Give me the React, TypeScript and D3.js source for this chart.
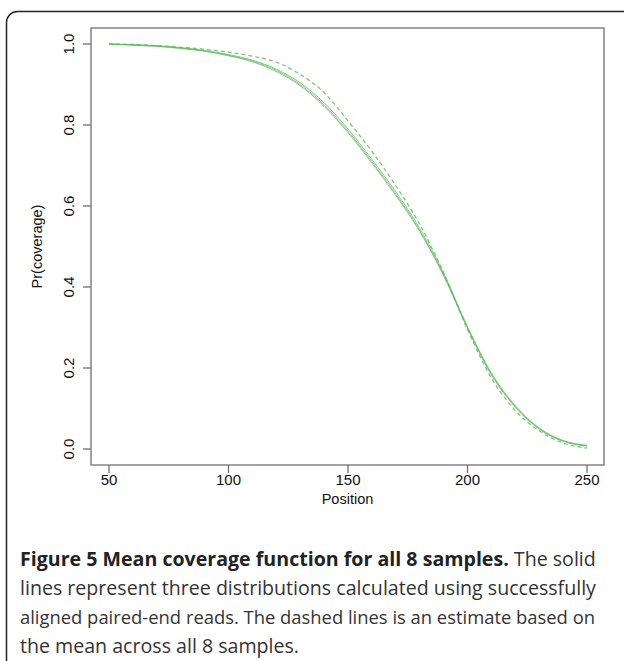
import React from "react";
import * as d3 from "d3";

const positions = [50, 60, 70, 80, 90, 100, 110, 120, 130, 140, 150, 160, 170, 180, 190, 200, 210, 220, 230, 240, 250];
const solidA = [1.0, 0.998, 0.995, 0.99, 0.983, 0.972, 0.958, 0.935, 0.9, 0.85, 0.785, 0.71, 0.63, 0.54, 0.43, 0.3, 0.185, 0.105, 0.05, 0.02, 0.008];
const solidB = [1.0, 0.998, 0.996, 0.991, 0.984, 0.974, 0.96, 0.938, 0.904, 0.855, 0.79, 0.715, 0.635, 0.545, 0.435, 0.302, 0.188, 0.107, 0.052, 0.021, 0.009];
const solidC = [1.0, 0.997, 0.994, 0.989, 0.982, 0.971, 0.956, 0.932, 0.897, 0.846, 0.781, 0.706, 0.626, 0.537, 0.428, 0.298, 0.183, 0.103, 0.049, 0.019, 0.007];
const dashedMean = [1.0, 0.999, 0.996, 0.992, 0.987, 0.98, 0.97, 0.955, 0.925, 0.88, 0.81, 0.735, 0.65, 0.555, 0.435, 0.295, 0.175, 0.095, 0.045, 0.015, 0.002];
const xTicks = [50, 100, 150, 200, 250];
const yTicks = [0.0, 0.2, 0.4, 0.6, 0.8, 1.0];
const captionBold = "Figure 5 Mean coverage function for all 8 samples.";
const captionLines = [
  " The solid",
  "lines represent three distributions calculated using successfully",
  "aligned paired-end reads. The dashed lines is an estimate based on",
  "the mean across all 8 samples.",
];

export default function App() {
  const W = 624, H = 661;
  const box = { l: 91, r: 604, t: 28, b: 465 };
  const x = d3.scaleLinear().domain([50, 250]).range([109, 587]);
  const y = d3.scaleLinear().domain([0, 1]).range([449, 44]);
  const line = (vals: number[]) =>
    d3.line<number>().x((_, i) => x(positions[i])).y((v) => y(v)).curve(d3.curveMonotoneX)(vals) || "";
  const green = "#5cb85c";
  const axisColor = "#707070";
  const font = "Liberation Sans, Arial, sans-serif";
  const capFont = "'Open Sans', 'Noto Sans', sans-serif";
  const capSize = 19.6;
  const capY0 = 566;
  const capLH = 29;
  return (
    <svg width={W} height={H} style={{ position: "absolute", left: 0, top: 0, background: "#fff" }}>
      <rect x={6.5} y={11.5} width={630} height={700} rx={11} fill="none" stroke="#222" strokeWidth={1.5} />
      <rect x={box.l} y={box.t} width={box.r - box.l} height={box.b - box.t} fill="none" stroke={axisColor} strokeWidth={1.3} />
      {[solidA, solidB, solidC].map((s, i) => (
        <path key={i} d={line(s)} fill="none" stroke={green} strokeWidth={1} strokeOpacity={0.75} />
      ))}
      <path d={line(dashedMean)} fill="none" stroke={green} strokeWidth={1.2} strokeDasharray="4,3" strokeOpacity={0.85} />
      {xTicks.map((t) => (
        <g key={t}>
          <line x1={x(t)} x2={x(t)} y1={box.b} y2={box.b + 8} stroke={axisColor} strokeWidth={1.3} />
          <text x={x(t)} y={485} textAnchor="middle" fontFamily={font} fontSize={15} fill="#111">{t}</text>
        </g>
      ))}
      {yTicks.map((t) => (
        <g key={t}>
          <line x1={box.l - 8} x2={box.l} y1={y(t)} y2={y(t)} stroke={axisColor} strokeWidth={1.3} />
          <text transform={`translate(74,${y(t)}) rotate(-90)`} textAnchor="middle" fontFamily={font} fontSize={15} fill="#111">{t.toFixed(1)}</text>
        </g>
      ))}
      <text x={(box.l + box.r) / 2} y={504} textAnchor="middle" fontFamily={font} fontSize={14.5} fill="#111">Position</text>
      <text transform={`translate(42,${(box.t + box.b) / 2}) rotate(-90)`} textAnchor="middle" fontFamily={font} fontSize={14.5} fill="#111">Pr(coverage)</text>
      <text x={20} y={capY0} fontFamily={capFont} fontSize={capSize} fill="#333">
        <tspan fontWeight="bold" fill="#222">{captionBold}</tspan>
        <tspan>{captionLines[0]}</tspan>
      </text>
      <text x={20} y={capY0 + capLH} fontFamily={capFont} fontSize={capSize} fill="#333">{captionLines[1]}</text>
      <text x={20} y={capY0 + capLH * 2} fontFamily={capFont} fontSize={18.4} fill="#333">{captionLines[2]}</text>
      <text x={20} y={capY0 + capLH * 3} fontFamily={capFont} fontSize={capSize} fill="#333">{captionLines[3]}</text>
    </svg>
  );
}
